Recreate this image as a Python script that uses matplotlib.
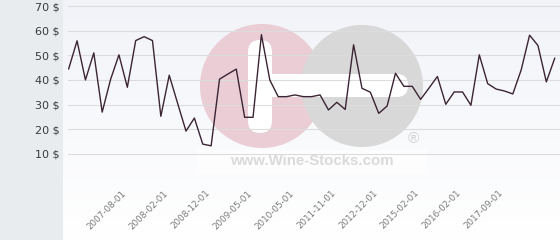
import matplotlib
matplotlib.use('Agg')
import matplotlib.pyplot as plt
import matplotlib.patches as mpatches
import matplotlib.transforms as mtransforms
import numpy as np

# price history (one value per sample)
prices = [44.5, 55.9, 40.0, 51.0, 26.9, 40.2, 50.2, 37.0, 56.0, 57.6,
          56.0, 25.2, 41.9, 30.5, 19.2, 24.5, 13.9, 13.2, 40.3, 42.4,
          44.4, 24.8, 24.8, 58.4, 40.0, 33.2, 33.2, 33.9, 33.2, 33.2,
          33.9, 27.8, 30.9, 28.0, 54.3, 36.6, 35.0, 26.4, 29.4, 42.7,
          37.4, 37.4, 32.1, 36.7, 41.4, 30.1, 35.1, 35.1, 29.7, 50.2,
          38.5, 36.3, 35.5, 34.3, 44.1, 58.2, 54.0, 39.2, 48.8]
tick_pos = [7, 12, 17, 22, 27, 32, 37, 42, 47, 52]
tick_labels = ['2007-08-01', '2008-02-01', '2008-12-01', '2009-05-01', '2010-05-01',
               '2011-11-01', '2012-12-01', '2015-02-01', '2016-02-01', '2017-09-01']
y_ticks = [10, 20, 30, 40, 50, 60, 70]

fig = plt.figure(figsize=(5.6, 2.4), dpi=100)

# background layer in pixel coordinates
bg = fig.add_axes([0, 0, 1, 1])
bg.set_xlim(0, 560)
bg.set_ylim(240, 0)
bg.axis('off')
bg.add_patch(mpatches.Rectangle((0, 0), 63, 240, color='#e8ecef', lw=0))
grad = np.linspace(0, 1, 100).reshape(-1, 1)
top = np.array([0.945, 0.953, 0.972])
bottom = np.array([1.0, 1.0, 1.0])
img = top + (bottom - top) * grad[..., None]
bg.imshow(img, extent=[63, 560, 240, 0], aspect='auto', zorder=0)

# watermark
bg.add_patch(mpatches.Rectangle((197, 150), 230, 24, color='white', alpha=0.7, lw=0, zorder=1))
bg.add_patch(mpatches.Circle((262, 86), 62, color='#eacdd5', lw=0, zorder=1))
bg.add_patch(mpatches.Circle((362, 86), 61, color='#d8d8d8', lw=0, zorder=1))
bg.add_patch(mpatches.FancyBboxPatch((248, 40), 24, 93, boxstyle='round,pad=0,rounding_size=12',
                                     color='white', lw=0, zorder=2))
bg.add_patch(mpatches.FancyBboxPatch((258, 74), 150, 23, boxstyle='round,pad=0,rounding_size=11',
                                     color='white', lw=0, zorder=2))
bg.text(312, 161, 'www.Wine-Stocks.com', ha='center', va='center', fontsize=10.8,
        fontweight='bold', family='Liberation Sans', color='#dadada', zorder=2)
bg.text(413, 139, '\u00ae', ha='center', va='center', fontsize=11,
        family='Liberation Sans', color='#d2d2d2', zorder=2)

# main chart
ax = fig.add_axes([68 / 560, (240 - 178.3) / 240, 492 / 560, 178.3 / 240])
ax.patch.set_alpha(0)
x = np.arange(len(prices))
ax.plot(x, prices, color='#3b2433', lw=1.0, zorder=3)
ax.set_xlim(-0.08, 58.63)
ax.set_ylim(0, 72.5)

for v in [0] + y_ticks:
    ax.axhline(v, color='#dcdcdc', lw=0.8, zorder=1)

ax.set_yticks(y_ticks)
ax.set_yticklabels([f'{v} $' for v in y_ticks], fontsize=8, color='#3a3a3a')
ax.set_xticks(tick_pos)
ax.set_xticklabels(tick_labels, rotation=45, ha='right', rotation_mode='anchor',
                   fontsize=6.3, color='#7a7a7a')
ax.tick_params(axis='y', length=0, pad=6)
ax.tick_params(axis='x', length=0, pad=11)
shift = mtransforms.ScaledTranslation(-6 / 100, 5 / 100, fig.dpi_scale_trans)
for lbl in ax.get_xticklabels():
    lbl.set_transform(lbl.get_transform() + shift)
for s in ax.spines.values():
    s.set_visible(False)

fig.savefig('out.png', dpi=100)
